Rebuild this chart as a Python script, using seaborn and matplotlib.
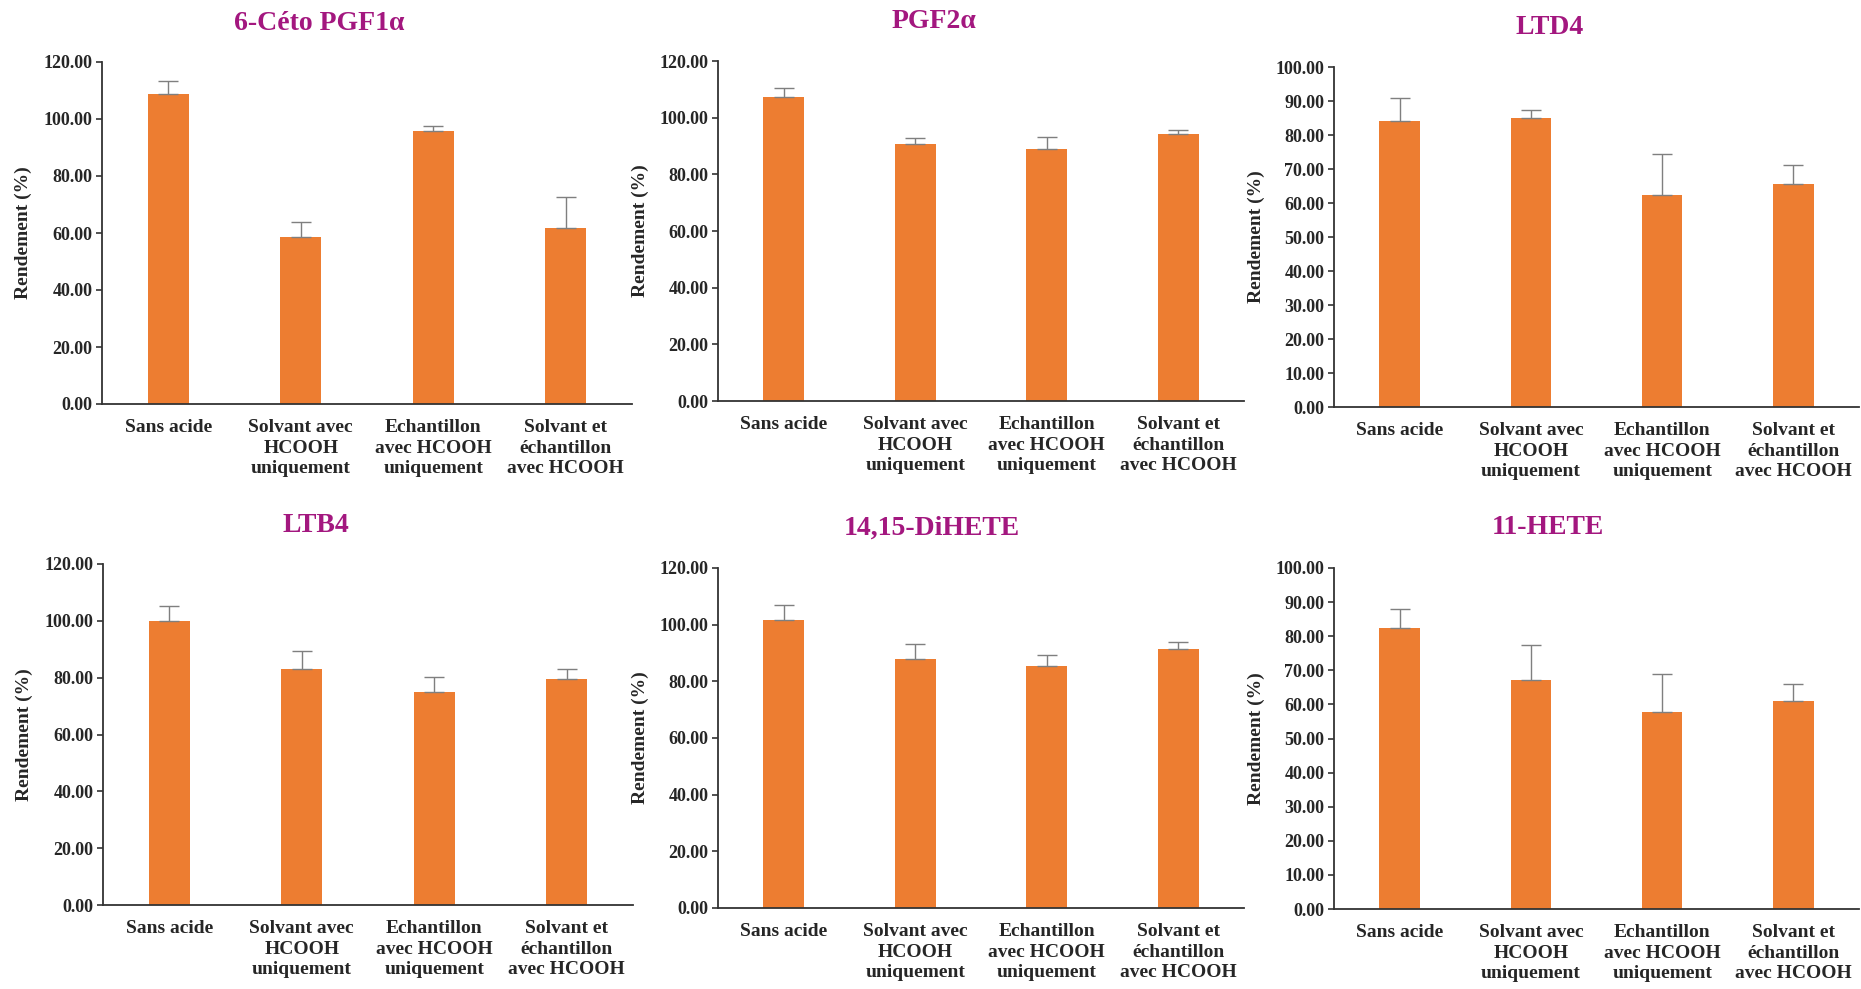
import numpy as np
import pandas as pd
import matplotlib
matplotlib.use("Agg")
import matplotlib.pyplot as plt
import seaborn as sns

categories = ["Sans acide", "Solvant avec\nHCOOH\nuniquement",
              "Echantillon\navec HCOOH\nuniquement", "Solvant et\néchantillon\navec HCOOH"]

titles = ["6-Céto PGF1α", "PGF2α", "LTD4", "LTB4", "14,15-DiHETE", "11-HETE"]

keto_pgf1a = [108.9, 58.5, 95.8, 61.9]
keto_pgf1a_err = [4.3, 5.5, 1.7, 10.7]
pgf2a = [107.4, 90.8, 89.1, 94.1]
pgf2a_err = [3.2, 2.1, 4.2, 1.4]
ltd4 = [84.2, 85.0, 62.4, 65.7]
ltd4_err = [6.7, 2.5, 11.9, 5.4]
ltb4 = [100.0, 83.1, 74.9, 79.7]
ltb4_err = [5.1, 6.3, 5.4, 3.5]
dihete = [101.8, 87.9, 85.5, 91.3]
dihete_err = [5.3, 5.2, 3.7, 2.6]
hete11 = [82.5, 67.1, 57.7, 60.9]
hete11_err = [5.5, 10.4, 11.3, 5.2]

y_max = [120, 120, 100, 120, 120, 100]
y_step = [20, 20, 10, 20, 20, 10]

series = [keto_pgf1a, pgf2a, ltd4, ltb4, dihete, hete11]
errors = [keto_pgf1a_err, pgf2a_err, ltd4_err, ltb4_err, dihete_err, hete11_err]

sns.set_theme(style="white")
plt.rcParams['font.family'] = ['Liberation Serif', 'DejaVu Serif']
plt.rcParams['font.weight'] = 'bold'

W, H = 1861, 989
fig = plt.figure(figsize=(W / 100, H / 100), dpi=100)

# axes boxes in pixels: (left, top, right, bottom)
boxes = [(102, 62, 632, 404), (718, 61, 1244, 401), (1334, 67, 1859, 407),
         (103, 564, 633, 905), (718, 568, 1244, 908), (1334, 568, 1859, 909)]
title_pos = [(319, 23), (934, 22), (1550, 27), (316, 525), (932, 528), (1548, 528)]

bar_color = "#ED7D31"
title_color = "#A3177F"

for i in range(6):
    l, t, r, b = boxes[i]
    ax = fig.add_axes([l / W, 1 - b / H, (r - l) / W, (b - t) / H])
    df = pd.DataFrame({"cat": categories, "val": series[i]})
    sns.barplot(data=df, x="cat", y="val", color=bar_color, saturation=1,
                width=0.31, ax=ax, edgecolor="none")
    xs = np.arange(len(categories))
    ax.errorbar(xs, series[i], yerr=[np.zeros(4), errors[i]], fmt="none",
                ecolor="#7F7F7F", elinewidth=1.0, capsize=7, capthick=1.0, zorder=3)
    ax.set_xlim(-0.5, 3.5)
    ax.set_ylim(0, y_max[i])
    ticks = np.arange(0, y_max[i] + 0.1, y_step[i])
    ax.set_yticks(ticks)
    ax.set_yticklabels([f"{v:.2f}" for v in ticks], fontsize=13, fontweight="bold")
    ax.set_xticks(xs)
    ax.set_xticklabels(categories, fontsize=14, fontweight="bold", linespacing=1.25)
    ax.set_xticks(np.arange(-0.5, 3.6, 1.0), minor=True)
    ax.tick_params(axis="x", which="major", length=0, pad=11)
    ax.tick_params(axis="x", which="minor", length=6, width=1.2, color="#333333", direction="out")
    ax.tick_params(axis="y", which="major", length=4, width=1.2, color="#333333",
                   direction="out", pad=3, left=True)
    for s in ["top", "right"]:
        ax.spines[s].set_visible(False)
    for s in ["left", "bottom"]:
        ax.spines[s].set_color("#333333")
        ax.spines[s].set_linewidth(1.3)
    ax.set_xlabel("")
    ax.set_ylabel("Rendement (%)", fontsize=14, fontweight="bold")
    ax.yaxis.set_label_coords(-0.132, 0.5)
    ax.grid(False)
    ax.set_facecolor("white")
    tx, ty = title_pos[i]
    fig.text(tx / W, 1 - ty / H, titles[i], color=title_color, fontsize=20,
             fontweight="bold", ha="center", va="center")

fig.savefig("out.png", dpi=100, facecolor="white")
